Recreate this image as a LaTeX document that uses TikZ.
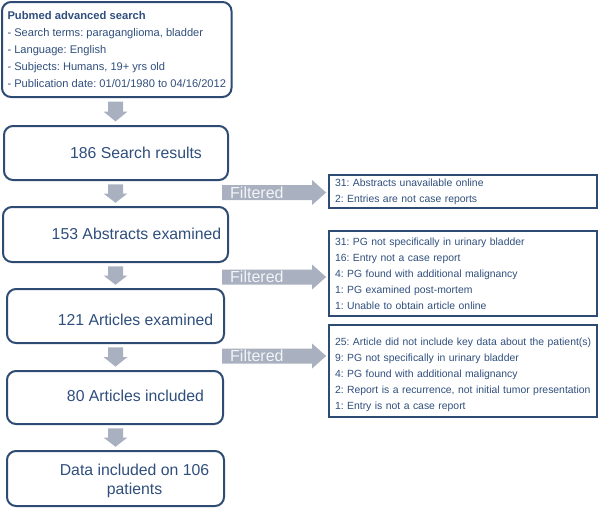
\documentclass[tikz,border=0pt]{standalone}
\usepackage{fontspec}
\setmainfont{Liberation Sans}
\usetikzlibrary{calc}
\definecolor{navy}{HTML}{2E4B73}
\definecolor{ink}{HTML}{2F4E7C}
\definecolor{blk}{HTML}{A9B0BF}
\definecolor{ftxt}{HTML}{F2F4F7}
\tikzset{
  stage/.style={draw=navy, line width=2pt, rounded corners=9pt, rectangle, inner sep=0pt},
  stagetext/.style={text=ink, font=\fontsize{15.8}{19}\selectfont, inner sep=0pt, align=center},
  filt/.style={draw=navy, line width=1.8pt, rectangle, text=ink, font=\fontsize{10.4}{16}\selectfont,
    align=left, text width=256pt, inner xsep=6pt, inner ysep=0pt, minimum width=268pt},
  blkfill/.style={fill=blk},
  filtlabel/.style={text=ftxt, font=\fontsize{16}{16}\selectfont, inner sep=0pt, anchor=west},
}
\newcommand\vblock[2]{%
  \path (115.5,0 |- #1.south) coordinate (vt) (115.5,0 |- #2.north) coordinate (vu);
  \fill[blkfill] ($(vt)!0.13!(vu)+(-7.5,0)$) -- ($(vt)!0.5!(vu)+(-7.5,0)$) -- ($(vt)!0.5!(vu)+(-12,0)$)
    -- ($(vt)!0.87!(vu)$) -- ($(vt)!0.5!(vu)+(12,0)$) -- ($(vt)!0.5!(vu)+(7.5,0)$)
    -- ($(vt)!0.13!(vu)+(7.5,0)$) -- cycle;}
\newcommand\hblock[3]{%
  \path (#1) coordinate (hs) (#1 -| #2.west) coordinate (hu);
  \fill[blkfill] ($(hs)+(0,-7.5)$) -- ($(hu)+(-16,-7.5)$) -- ($(hu)+(-16,-12.5)$) -- ($(hu)+(-2,0)$)
    -- ($(hu)+(-16,12.5)$) -- ($(hu)+(-16,7.5)$) -- ($(hs)+(0,7.5)$) -- cycle;
  \node[filtlabel] (#3) at ($(hs)+(8,0)$) {Filtered};}
\begin{document}
\frenchspacing
\begin{tikzpicture}[x=1pt, y=-1pt]
\useasboundingbox (0,0) rectangle (600,507);
% main stages
\node[stage, minimum width=229.5pt, minimum height=95pt, text=ink, align=left,
  font=\fontsize{11.1}{17}\selectfont] (b1) at (116.75,49.5)
  {\textbf{\fontsize{11.2}{17}\selectfont Pubmed advanced search}\\
   - Search terms: paraganglioma, bladder\\
   - Language: English\\
   - Subjects: Humans, 19+ yrs old\\
   - Publication date: 01/01/1980 to 04/16/2012};
\node[stage, minimum width=224pt, minimum height=54pt] (b2) at (116,153) {};
\node[stagetext] (t2) at (136,153) {186 Search results};
\node[stage, minimum width=225pt, minimum height=55pt] (b3) at (115.5,234.5) {};
\node[stagetext] (t3) at (136.5,234) {153 Abstracts examined};
\node[stage, minimum width=217pt, minimum height=54pt] (b4) at (115.5,316) {};
\node[stagetext] (t4) at (135.5,320) {121 Articles examined};
\node[stage, minimum width=216pt, minimum height=53pt] (b5) at (115,397.5) {};
\node[stagetext] (t5) at (135.5,396) {80 Articles included};
\node[stage, minimum width=217pt, minimum height=55pt] (b6) at (115.5,478.5) {};
\node[stagetext] (t6) at (134.5,481) {Data included on 106\\patients};
% filter boxes
\node[filt, minimum height=33pt] (f1) at (463,191.5)
  {31: Abstracts unavailable online\\2: Entries are not case reports};
\node[filt, minimum height=85pt] (f2) at (463,273.5)
  {31: PG not specifically in urinary bladder\\16: Entry not a case report\\4: PG found with additional malignancy\\1: PG examined post-mortem\\1: Unable to obtain article online};
\node[filt, minimum height=92pt] (f3) at (463,371)
  {\rule{0pt}{15pt}\mbox{25: Article did not include key data about the patient(s)}\\9: PG not specifically in urinary bladder\\4: PG found with additional malignancy\\\mbox{2: Report is a recurrence, not initial tumor presentation}\\1: Entry is not a case report};
% vertical block arrows
\vblock{b1}{b2}
\vblock{b2}{b3}
\vblock{b3}{b4}
\vblock{b4}{b5}
\vblock{b5}{b6}
% filtered arrows
\coordinate (h1) at (222,192.5);
\coordinate (h2) at (222,277);
\coordinate (h3) at (222,356);
\hblock{h1}{f1}{l1}
\hblock{h2}{f2}{l2}
\hblock{h3}{f3}{l3}
\end{tikzpicture}
\end{document}
